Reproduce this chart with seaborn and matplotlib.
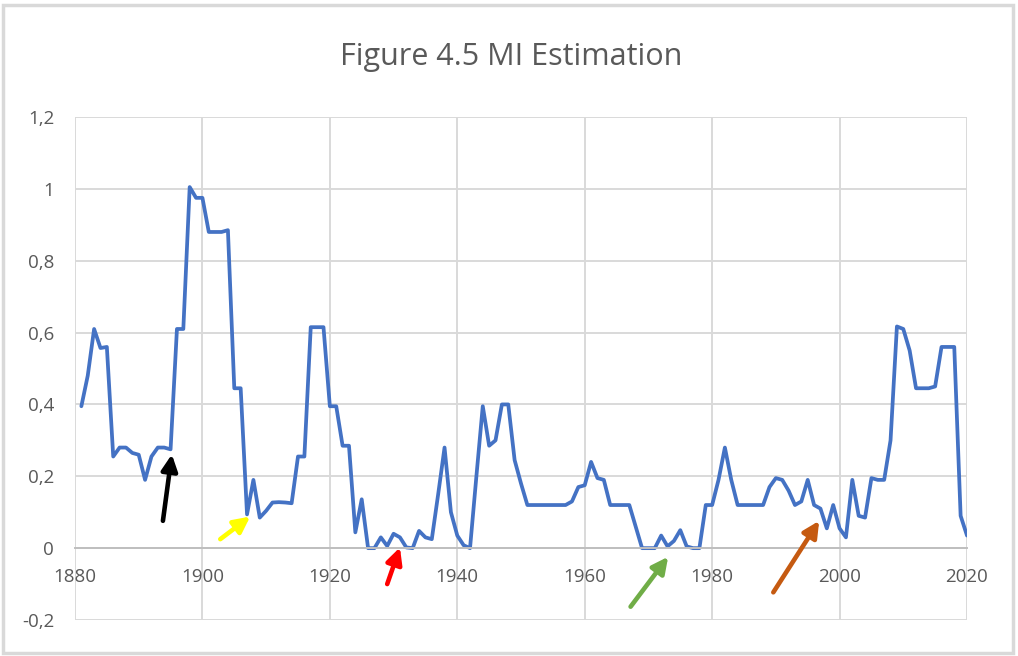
import numpy as np
import pandas as pd
import seaborn as sns
import matplotlib.pyplot as plt
from matplotlib.patches import Rectangle
from matplotlib.ticker import FuncFormatter

# values, one per year 1881-2020
years = list(range(1881, 2021))
mi = [
    0.395, 0.48, 0.61, 0.557, 0.56, 0.255, 0.28, 0.28, 0.265, 0.26,      # 1881-1890
    0.19, 0.255, 0.28, 0.28, 0.275, 0.61, 0.61, 1.005, 0.975, 0.975,     # 1891-1900
    0.88, 0.88, 0.88, 0.885, 0.445, 0.445, 0.094, 0.19, 0.085, 0.104,    # 1901-1910
    0.127, 0.128, 0.127, 0.125, 0.255, 0.255, 0.615, 0.615, 0.615, 0.395,  # 1911-1920
    0.395, 0.285, 0.285, 0.044, 0.136, 0.0, 0.0, 0.03, 0.006, 0.04,      # 1921-1930
    0.03, 0.002, 0.0, 0.048, 0.03, 0.025, 0.15, 0.28, 0.10, 0.035,       # 1931-1940
    0.008, 0.0, 0.2, 0.395, 0.285, 0.3, 0.4, 0.4, 0.245, 0.18,          # 1941-1950
    0.12, 0.12, 0.12, 0.12, 0.12, 0.12, 0.12, 0.13, 0.17, 0.175,        # 1951-1960
    0.24, 0.195, 0.19, 0.12, 0.12, 0.12, 0.12, 0.06, 0.0, 0.0,          # 1961-1970
    0.0, 0.035, 0.005, 0.02, 0.05, 0.005, 0.0, 0.0, 0.12, 0.12,         # 1971-1980
    0.19, 0.28, 0.19, 0.12, 0.12, 0.12, 0.12, 0.12, 0.17, 0.195,        # 1981-1990
    0.19, 0.16, 0.12, 0.13, 0.19, 0.12, 0.11, 0.055, 0.12, 0.055,       # 1991-2000
    0.03, 0.19, 0.09, 0.085, 0.195, 0.19, 0.19, 0.3, 0.617, 0.61,       # 2001-2010
    0.55, 0.445, 0.445, 0.445, 0.45, 0.56, 0.56, 0.56, 0.09, 0.035,     # 2011-2020
]
df = pd.DataFrame({"year": years, "mi": mi})

x_ticks = list(range(1880, 2021, 20))
y_ticks = [-0.2, 0, 0.2, 0.4, 0.6, 0.8, 1.0, 1.2]

# arrows: (tail, head, colour)
arrows = [
    ((1893.8, 0.076), (1895.2, 0.261), "black"),
    ((1902.8, 0.025), (1907.5, 0.088), "#FFFF00"),
    ((1929.0, -0.10), (1931.0, 0.002), "#FF0000"),
    ((1967.2, -0.163), (1973.1, -0.024), "#70AD47"),
    ((1989.6, -0.123), (1996.8, 0.076), "#C55A11"),
]

sns.set_style("white")
plt.rcParams["font.family"] = ["Open Sans", "DejaVu Sans"]

fig = plt.figure(figsize=(10.18, 6.56), dpi=100)
ax = fig.add_axes([75 / 1018, 1 - 620 / 656, 892 / 1018, 503 / 656])

sns.lineplot(data=df, x="year", y="mi", ax=ax, color="#4472C4", linewidth=2.7,
             solid_joinstyle="round", solid_capstyle="round")

ax.set_xlim(1880, 2020)
ax.set_ylim(-0.2, 1.2)
ax.set_xticks(x_ticks)
ax.set_yticks(y_ticks)
ax.yaxis.set_major_formatter(FuncFormatter(lambda v, p: f"{v:g}".replace(".", ",") if abs(v) > 1e-9 else "0"))
ax.grid(True, color="#D9D9D9", linewidth=1.4)
ax.set_axisbelow(True)
for s in ["top", "right", "left"]:
    ax.spines[s].set_visible(False)
ax.spines["bottom"].set_position(("data", 0))
ax.spines["bottom"].set_color("#BFBFBF")
ax.spines["bottom"].set_linewidth(1.4)
ax.tick_params(axis="both", length=0, labelsize=13.5, labelcolor="#595959")
ax.tick_params(axis="x", pad=14)
ax.tick_params(axis="y", pad=15)
ax.set_xlabel("")
ax.set_ylabel("")

for tail, head, col in arrows:
    ax.annotate("", xy=head, xytext=tail,
                arrowprops=dict(arrowstyle="-|>", color=col, lw=3.3, mutation_scale=24,
                                shrinkA=0, shrinkB=0))

fig.text(0.502, 1 - 57 / 656, "Figure 4.5 MI Estimation", ha="center", va="center",
         fontsize=22, color="#595959")

fig.patches.append(Rectangle((3 / 1018, 3 / 656), 1010 / 1018, 648 / 656, transform=fig.transFigure,
                             fill=False, edgecolor="#D9D9D9", linewidth=2.5))

fig.savefig("out.png", dpi=100)
